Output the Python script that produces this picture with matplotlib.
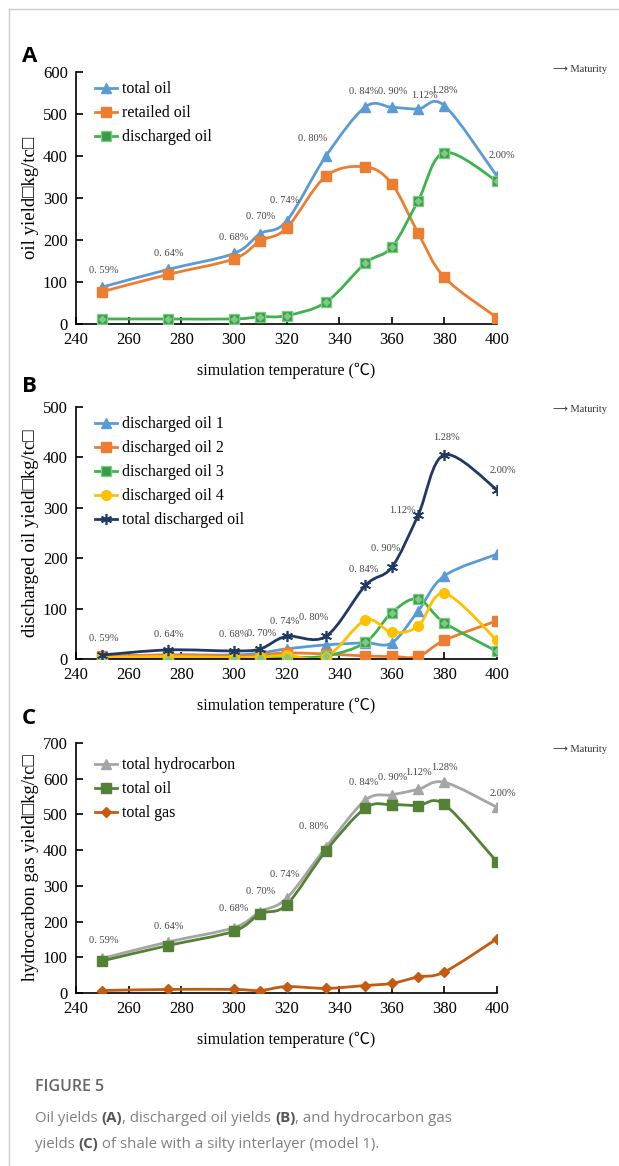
import numpy as np
import matplotlib
matplotlib.use("Agg")
import matplotlib.pyplot as plt
from matplotlib.path import Path
from matplotlib.patches import PathPatch
from matplotlib.lines import Line2D

# 데이터
temp = [250, 275, 300, 310, 320, 335, 350, 360, 370, 380, 400]
ro_labels = ["0. 59%", "0. 64%", "0. 68%", "0. 70%", "0. 74%", "0. 80%",
             "0. 84%", "0. 90%", "1.12%", "1.28%", "2.00%"]

# A
total_oil_a = [88, 130, 168, 215, 245, 400, 517, 516, 512, 520, 352]
retained_oil = [77, 118, 155, 198, 228, 352, 374, 334, 217, 111, 15]
discharged_oil = [12, 12, 12, 17, 20, 52, 145, 183, 293, 408, 340]

# B
dis_oil_1 = [5, 8, 8, 12, 20, 28, 32, 32, 95, 165, 208]
dis_oil_2 = [5, 8, 6, 8, 12, 10, 6, 5, 5, 37, 76]
dis_oil_3 = [0, 0, 2, 2, 3, 6, 33, 92, 119, 72, 15]
dis_oil_4 = [3, 5, 3, 4, 7, 4, 77, 53, 65, 130, 37]
dis_total = [8, 18, 16, 20, 45, 45, 146, 182, 285, 405, 336]

# C
total_hc = [97, 143, 183, 228, 265, 408, 540, 555, 570, 590, 520]
total_oil_c = [90, 133, 173, 222, 247, 398, 518, 527, 525, 528, 367]
total_gas = [7, 10, 10, 7, 18, 13, 21, 27, 45, 59, 152]

SERIF = ["Liberation Serif", "DejaVu Sans"]
SANS = ["Open Sans", "DejaVu Sans"]
plt.rcParams["font.family"] = SERIF

W, H = 619, 1166
fig = plt.figure(figsize=(W / 100, H / 100), dpi=100)
MS = 6.5


def smooth(ax, x, y, color, lw=2.0, z=2):
    # 엑셀식 부드러운 선 (베지어)
    x = np.asarray(x, float)
    y = np.asarray(y, float)
    verts = [(x[0], y[0])]
    codes = [Path.MOVETO]
    n = len(x)
    for i in range(n - 1):
        x0, y0 = (x[i - 1], y[i - 1]) if i > 0 else (x[i], y[i])
        x3, y3 = (x[i + 2], y[i + 2]) if i + 2 < n else (x[i + 1], y[i + 1])
        c1 = (x[i] + (x[i + 1] - x0) / 6, y[i] + (y[i + 1] - y0) / 6)
        c2 = (x[i + 1] - (x3 - x[i]) / 6, y[i + 1] - (y3 - y[i]) / 6)
        verts += [c1, c2, (x[i + 1], y[i + 1])]
        codes += [Path.CURVE4] * 3
    ax.add_patch(PathPatch(Path(verts, codes), fill=False, edgecolor=color,
                           lw=lw, zorder=z, capstyle="round"))


def series(ax, x, y, color, marker, ms, mfc=None, mec=None, inner=None):
    smooth(ax, x, y, color)
    ax.plot(x, y, ls="none", marker=marker, ms=ms, color=color,
            mfc=mfc or color, mec=mec or color, mew=1.0, zorder=3)
    if inner:
        ax.plot(x, y, ls="none", marker="D", ms=ms * 0.5, mfc=inner,
                mec=inner, zorder=4)


def handle(color, marker, ms, mfc=None, mec=None):
    return Line2D([], [], color=color, lw=2, marker=marker, ms=ms,
                  mfc=mfc or color, mec=mec or color, mew=1.0)


def setup(ax, top, step, ylabel, letter, ypx):
    ax.set_xlim(240, 400)
    ax.set_ylim(0, top)
    ax.set_xticks(range(240, 401, 20))
    ax.set_yticks(range(0, top + 1, step))
    for s in ["top", "right"]:
        ax.spines[s].set_visible(False)
    for s in ["left", "bottom"]:
        ax.spines[s].set_linewidth(1.2)
    ax.tick_params(direction="in", length=5, width=1.2, labelsize=12, pad=6)
    ax.set_ylabel(ylabel, fontsize=13.5, family=SERIF, labelpad=3)
    ax.set_xlabel("simulation temperature (℃)", fontsize=11.5,
                  family=["Liberation Serif", "Noto Sans CJK SC", "DejaVu Sans"],
                  labelpad=10)
    fig.text(22 / W, 1 - ypx / H, letter, fontsize=16, fontweight="bold",
             family=SANS, va="center", ha="left")


def labels(ax, yv, offs):
    for x, y, t, (dx, dy) in zip(temp, yv, ro_labels, offs):
        ax.annotate(t, (x, y), xytext=(dx * 0.72, dy * 0.72),
                    textcoords="offset points", ha="center", va="bottom",
                    fontsize=7.5, color="#444444", family=SERIF)


def maturity(ypx):
    fig.text(553 / W, 1 - ypx / H, "⟶ Maturity", fontsize=7.5,
             color="#333333", family=["Liberation Serif", "DejaVu Sans"],
             va="center", ha="left")


def legend(ax, handles, names, y0):
    ax.legend(handles, names, loc="upper left", bbox_to_anchor=(0.012, y0),
              frameon=False, fontsize=11.5, handlelength=1.35,
              handletextpad=0.3, labelspacing=0.5)


left, width = 76 / W, 421 / W
green_kw = dict(mfc="#3A9A46", mec="#7CCB84", inner="#7CCB84")

# A
axA = fig.add_axes([left, 1 - 324 / H, width, 252 / H])
setup(axA, 600, 100, "oil yield□kg/tc□", "A", 57)
series(axA, temp, total_oil_a, "#5B9BD5", "^", MS + 1)
series(axA, temp, retained_oil, "#ED7D31", "s", MS)
series(axA, temp, discharged_oil, "#3CB44B", "s", MS, **green_kw)
labels(axA, total_oil_a, [(1, 12), (1, 11), (0, 11), (0, 13), (-2, 16),
                          (-13, 13), (-2, 11), (1, 11), (6, 9), (0, 11), (5, 16)])
legend(axA, [handle("#5B9BD5", "^", MS + 1), handle("#ED7D31", "s", MS),
             handle("#3CB44B", "s", MS, mfc="#3A9A46", mec="#7CCB84")],
       ["total oil", "retailed oil", "discharged oil"], 1.02)
maturity(70)

# B
axB = fig.add_axes([left, 1 - 659 / H, width, 252 / H])
setup(axB, 500, 100, "discharged oil yield□kg/tc□", "B", 386)
series(axB, temp, dis_oil_1, "#5B9BD5", "^", MS + 1)
series(axB, temp, dis_oil_2, "#ED7D31", "s", MS)
series(axB, temp, dis_oil_3, "#3CB44B", "s", MS, **green_kw)
series(axB, temp, dis_oil_4, "#FFC000", "o", MS + 0.5)
smooth(axB, temp, dis_total, "#1F3864", z=5)
axB.plot(temp, dis_total, ls="none", marker=(6, 2, 0), ms=8, mec="#1F3864",
         mew=1.2, zorder=6)
labels(axB, dis_total, [(1, 12), (1, 11), (0, 12), (1, 11), (-2, 10),
                        (-12, 14), (-2, 11), (-6, 14), (-16, 0), (2, 13), (6, 15)])
legend(axB, [handle("#5B9BD5", "^", MS + 1), handle("#ED7D31", "s", MS),
             handle("#3CB44B", "s", MS, mfc="#3A9A46", mec="#7CCB84"),
             handle("#FFC000", "o", MS + 0.5),
             Line2D([], [], color="#1F3864", lw=2, marker=(6, 2, 0), ms=8,
                    mew=1.2)],
       ["discharged oil 1", "discharged oil 2", "discharged oil 3",
        "discharged oil 4", "total discharged oil"], 1.02)
maturity(410)

# C
axC = fig.add_axes([left, 1 - 993 / H, width, 250 / H])
setup(axC, 700, 100, "hydrocarbon gas yield□kg/tc□", "C", 718)
series(axC, temp, total_hc, "#A5A5A5", "^", MS + 1)
series(axC, temp, total_oil_c, "#548235", "s", MS + 0.5)
series(axC, temp, total_gas, "#C55A11", "D", MS - 1)
labels(axC, total_hc, [(1, 13), (1, 11), (0, 15), (0, 16), (-2, 19),
                       (-12, 16), (-2, 13), (1, 13), (0, 12), (0, 10), (6, 9)])
legend(axC, [handle("#A5A5A5", "^", MS + 1), handle("#548235", "s", MS + 0.5),
             handle("#C55A11", "D", MS - 1)],
       ["total hydrocarbon", "total oil", "total gas"], 1.0)
maturity(749)

# 테두리
fig.add_artist(Line2D([9 / W, 9 / W], [0, 1 - 9 / H], color="#cccccc", lw=1))
fig.add_artist(Line2D([9 / W, 1], [1 - 9 / H, 1 - 9 / H], color="#cccccc", lw=1))

# 캡션
fig.text(35 / W, 1 - 1087 / H, "FIGURE 5", fontsize=11.5, fontweight="semibold",
         color="#666666", family=SANS, va="center")

renderer = fig.canvas.get_renderer()


def runs(xpx, ypx, parts):
    # 굵은 글씨 섞인 줄
    x = xpx
    for txt, bold in parts:
        t = fig.text(x / W, 1 - ypx / H, txt, fontsize=10.8,
                     color="#555555" if bold else "#808080",
                     family=SANS, va="center",
                     fontweight="bold" if bold else "normal")
        x += t.get_window_extent(renderer).width


runs(35, 1118, [("Oil yields ", False), ("(A)", True),
                (", discharged oil yields ", False), ("(B)", True),
                (", and hydrocarbon gas", False)])
runs(35, 1144, [("yields ", False), ("(C)", True),
                (" of shale with a silty interlayer (model 1).", False)])

fig.savefig("out.png", dpi=100)
